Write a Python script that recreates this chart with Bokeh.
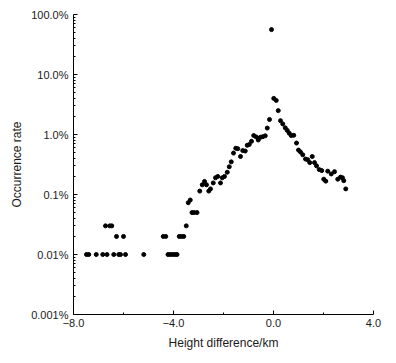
from bokeh.plotting import figure
from bokeh.models import Range1d, FixedTicker, CustomJSTickFormatter
from bokeh.embed import file_html
from bokeh.resources import INLINE

# Height difference (km) and occurrence rate (%)
height_diff = [
    -7.48, -7.39, -7.09, -6.83, -6.72, -6.66, -6.55, -6.47, -6.39, -6.28,
    -6.19, -6.12, -6.00, -5.92, -5.19,
    -4.41, -4.31, -4.22, -4.13, -4.04, -3.95, -3.86, -3.77, -3.68, -3.59, -3.49,
    -3.41, -3.33, -3.26, -3.17, -3.06,
    -2.95, -2.85, -2.76, -2.68, -2.59, -2.52, -2.41, -2.32, -2.23, -2.12,
    -2.05, -1.96, -1.85, -1.77, -1.69, -1.60, -1.51, -1.43, -1.32, -1.23,
    -1.13, -1.05, -0.97, -0.88, -0.79, -0.69, -0.61, -0.52, -0.43, -0.33,
    -0.25, -0.16, -0.08,
    0.01, 0.11, 0.19, 0.28, 0.37, 0.47, 0.55, 0.63, 0.71, 0.81,
    0.92, 1.00, 1.08, 1.17, 1.28, 1.37, 1.45, 1.55, 1.64, 1.72,
    1.83, 1.93, 2.01, 2.09, 2.17, 2.31, 2.44, 2.57, 2.68, 2.76,
    2.81, 2.89,
]
occurrence_pct = [
    0.01, 0.01, 0.01, 0.01, 0.03, 0.01, 0.03, 0.03, 0.01, 0.02,
    0.01, 0.01, 0.02, 0.01, 0.01,
    0.02, 0.02, 0.01, 0.01, 0.01, 0.01, 0.01, 0.02, 0.02, 0.02, 0.03,
    0.073, 0.081, 0.05, 0.05, 0.05,
    0.114, 0.145, 0.165, 0.145, 0.114, 0.124, 0.156, 0.19, 0.20, 0.156,
    0.19, 0.20, 0.235, 0.29, 0.35, 0.49, 0.59, 0.58, 0.43, 0.54,
    0.53, 0.66, 0.68, 0.77, 0.96, 0.91, 0.81, 0.90, 0.92, 0.95,
    1.28, 1.78, 56.0,
    4.0, 3.7, 2.5, 1.7, 1.5, 1.29, 1.17, 1.05, 0.96, 0.97,
    0.72, 0.55, 0.51, 0.46, 0.39, 0.38, 0.34, 0.43, 0.34, 0.30,
    0.26, 0.25, 0.18, 0.167, 0.245, 0.22, 0.24, 0.18, 0.195, 0.19,
    0.17, 0.124,
]

x_tick_values = [-8, -4, 0, 4]
x_tick_labels = ["\u22128.0", "\u22124.0", "0.0", "4.0"]
x_minor_ticks = [-6, -2, 2]
y_tick_values = [0.001, 0.01, 0.1, 1, 10, 100]
y_tick_labels = ["0.001%", "0.01%", "0.1%", "1.0%", "10.0%", "100.0%"]
y_minor_ticks = [m * d for d in [0.001, 0.01, 0.1, 1, 10] for m in range(2, 10)]

FONT = "Liberation Sans"
TEXT = "#1a1a1a"

p = figure(width=388, height=356, output_backend="svg", toolbar_location=None,
           x_range=Range1d(-8, 4), y_range=Range1d(0.001, 100),
           y_axis_type="log",
           min_border_left=73, min_border_right=15,
           min_border_top=14, min_border_bottom=42)

p.scatter(height_diff, occurrence_pct, size=4, color="black", line_color="black")

p.grid.visible = False
p.outline_line_color = None
p.background_fill_color = "white"
p.border_fill_color = "white"

p.xaxis.ticker = FixedTicker(ticks=x_tick_values, minor_ticks=x_minor_ticks)
p.xaxis.formatter = CustomJSTickFormatter(
    args=dict(vals=x_tick_values, labs=x_tick_labels),
    code="""
let best = 0, bd = 1e9;
for (let i = 0; i < vals.length; i++) { const d = Math.abs(vals[i] - tick); if (d < bd) { bd = d; best = i; } }
return labs[best];
""")
p.yaxis.ticker = FixedTicker(ticks=y_tick_values, minor_ticks=y_minor_ticks)
p.yaxis.formatter = CustomJSTickFormatter(
    args=dict(vals=y_tick_values, labs=y_tick_labels),
    code="""
let best = 0, bd = 1e9;
for (let i = 0; i < vals.length; i++) { const d = Math.abs(Math.log10(vals[i]) - Math.log10(tick)); if (d < bd) { bd = d; best = i; } }
return labs[best];
""")

p.xaxis.axis_label = "Height difference/km"
p.yaxis.axis_label = "Occurrence rate"

for ax in (p.xaxis[0], p.yaxis[0]):
    ax.axis_line_color = "black"
    ax.axis_line_width = 1
    ax.major_tick_in = 4
    ax.major_tick_out = 0
    ax.minor_tick_in = 2
    ax.minor_tick_out = 0
    ax.major_tick_line_color = "black"
    ax.minor_tick_line_color = "black"
    ax.major_label_text_font = FONT
    ax.major_label_text_font_size = "11px"
    ax.major_label_text_color = TEXT
    ax.axis_label_text_font = FONT
    ax.axis_label_text_font_size = "12px"
    ax.axis_label_text_font_style = "normal"
    ax.axis_label_text_color = TEXT

p.xaxis.major_label_standoff = 4
p.xaxis.axis_label_standoff = 6
p.yaxis.major_label_standoff = 5
p.yaxis.axis_label_standoff = 4

open("out.html", "w").write(file_html(p, INLINE))
